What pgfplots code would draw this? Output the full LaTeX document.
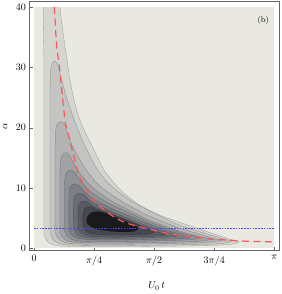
\documentclass[border=0pt]{standalone}
\usepackage{pgfplots}
\pgfplotsset{compat=1.18}
\definecolor{bg}{RGB}{233,233,225}
\definecolor{cA}{RGB}{214,214,209}
\definecolor{cB}{RGB}{196,197,194}
\definecolor{cC}{RGB}{178,179,179}
\definecolor{cD}{RGB}{160,162,164}
\definecolor{cE}{RGB}{142,145,149}
\definecolor{cF}{RGB}{124,127,133}
\definecolor{cG}{RGB}{106,109,116}
\definecolor{cH}{RGB}{88,91,98}
\definecolor{cI}{RGB}{70,72,79}
\definecolor{cJ}{RGB}{26,26,28}
\definecolor{redc}{RGB}{250,88,88}
\definecolor{bluec}{RGB}{70,70,255}
\begin{document}
\begin{tikzpicture}
\path[use as bounding box] (-29.5pt,-44pt) rectangle (251.5pt,249.7pt);
\begin{axis}[
  at={(0,0)}, anchor=south west,
  scale only axis, width=249pt, height=248pt,
  xmin=-0.059, xmax=3.200, ymin=-0.28, ymax=40.88,
  axis line style={black!60},
  tick style={black!60},
  xtick={0,0.7854,1.5708,2.3562,3.1416},
  xticklabels={$0$,$\pi/4$,$\pi/2$,$3\pi/4$,$\pi$},
  ytick={0,10,20,30,40},
  xtick pos=left, ytick pos=left, tick align=inside,
  major tick length=3pt,
  xlabel={$U_0\,t$}, ylabel={$\alpha$},
  xticklabel style={yshift=-2pt},
  xlabel style={at={(axis description cs:0.51,0)}, anchor=center, yshift=-36pt},
  ylabel style={at={(axis description cs:-0.098,0.5)}, anchor=center},
  cont/.style={draw=black, draw opacity=0.3, line width=0.3pt, smooth, tension=0.4},
]
\addplot[fill=bg, draw=none] coordinates {(0,0) (3.1416,0) (3.1416,40) (0,40)} -- cycle;
\begin{scope}
\clip (axis cs:0,0) rectangle (axis cs:3.1416,40);
% level 1
\addplot[cont, fill=cA] coordinates {
(0.130,2.33) (0.130,30) (0.130,42) (0.339,42) (0.339,40) (0.365,37.17) (0.391,34.67) (0.430,31.33) (0.469,28) (0.521,24.67)
(0.574,22.17) (0.652,19.67) (0.782,16.33) (0.912,13) (1.056,10.67) (1.186,9) (1.382,7.17) (1.643,5.5)
(1.903,4.33) (2.164,3.17) (2.425,2.08) (2.581,1.42) (2.685,1.08) (2.581,0.67) (2.294,0.45) (1.643,0.33)
(0.860,0.28) (0.404,0.33) (0.248,0.58) (0.169,1.17) (0.130,2.33)};
% level 2
\addplot[cont, fill=cB] coordinates {
(0.209,2.5) (0.209,24) (0.212,28.3) (0.222,30.0) (0.245,30.85) (0.274,31.05) (0.300,30.75) (0.320,30.0) (0.345,28.67)
(0.417,25.33) (0.469,23.33) (0.534,21) (0.613,18.5) (0.704,16) (0.808,13.5) (0.926,11.42) (1.056,9.83)
(1.251,8) (1.512,6.17) (1.903,3.83) (2.229,2.5) (2.490,1.5) (2.581,1.17) (2.425,0.75) (1.903,0.55)
(1.121,0.47) (0.534,0.5) (0.339,0.75) (0.248,1.42) (0.209,2.5)};
% level 3
\addplot[cont, fill=cC] coordinates {
(0.274,2.67) (0.274,15) (0.278,18.8) (0.292,20.2) (0.320,20.85) (0.350,21) (0.380,20.8) (0.405,20.2)
(0.443,18.83) (0.495,17.17) (0.561,15.5) (0.639,13.83) (0.730,12.17) (0.821,10.83) (0.926,9.67) (1.056,8.5)
(1.251,7) (1.512,5.33) (1.903,3.33) (2.164,2.33) (2.359,1.58) (2.451,1.33) (2.294,1) (1.773,0.75)
(0.991,0.67) (0.534,0.72) (0.391,1) (0.313,1.67) (0.274,2.67)};
% level 4
\addplot[cont, fill=cD] coordinates {
(0.339,2.83) (0.339,11.5) (0.345,14.3) (0.365,15.35) (0.395,15.8) (0.425,15.85) (0.458,15.5) (0.485,14.9) (0.521,14)
(0.587,12.67) (0.665,11.33) (0.756,10.17) (0.860,9.17) (0.991,8) (1.186,6.67) (1.447,5) (1.708,3.67)
(1.903,2.83) (2.164,1.92) (2.320,1.5) (2.164,1.17) (1.643,0.95) (0.991,0.87) (0.574,0.95) (0.430,1.25)
(0.365,1.92) (0.339,2.83)};
% level 5
\addplot[cont, fill=cE] coordinates {
(0.398,3) (0.398,9.8) (0.405,11.8) (0.430,12.6) (0.462,12.95) (0.495,12.95) (0.525,12.7) (0.555,12.2) (0.587,11.5)
(0.652,10.5) (0.730,9.5) (0.821,8.67) (0.926,7.83) (1.056,7) (1.251,5.83) (1.512,4.33) (1.773,3.17)
(1.968,2.42) (2.164,1.75) (2.034,1.42) (1.512,1.2) (0.991,1.12) (0.626,1.17) (0.495,1.45) (0.430,2.08)
(0.398,3)};
% level 6
\addplot[cont, fill=cF] coordinates {
(0.456,3.17) (0.456,8.3) (0.465,9.8) (0.490,10.45) (0.525,10.68) (0.560,10.62) (0.592,10.35) (0.625,9.95) (0.665,9.33)
(0.730,8.58) (0.821,7.83) (0.926,7.17) (1.056,6.33) (1.251,5.33) (1.512,4) (1.773,2.83) (2.034,1.83)
(1.877,1.58) (1.382,1.42) (0.926,1.37) (0.665,1.45) (0.547,1.75) (0.482,2.33) (0.456,3.17)};
% level 7
\addplot[cont, fill=cG] coordinates {
(0.515,3.33) (0.515,7.2) (0.525,8.4) (0.552,8.9) (0.590,9.1) (0.628,9.0) (0.665,8.7) (0.730,7.92)
(0.808,7.33) (0.899,6.75) (1.017,6.08) (1.186,5.17) (1.382,4.17) (1.643,3) (1.877,2.08) (1.708,1.83)
(1.251,1.67) (0.860,1.63) (0.678,1.75) (0.587,2.08) (0.541,2.67) (0.515,3.33)};
% level 8
\addplot[cont, fill=cH] coordinates {
(0.574,3.42) (0.574,6.3) (0.588,7.25) (0.620,7.72) (0.660,7.85) (0.700,7.7) (0.743,7.25) (0.808,6.75)
(0.899,6.25) (1.017,5.67) (1.186,4.83) (1.382,3.83) (1.577,2.92) (1.721,2.25) (1.577,2) (1.186,1.87)
(0.860,1.88) (0.704,2.08) (0.626,2.5) (0.587,2.92) (0.574,3.42)};
% level 9
\addplot[cont, fill=cI] coordinates {
(0.639,3.67) (0.639,5.6) (0.652,6.35) (0.680,6.8) (0.717,6.92) (0.756,6.83) (0.795,6.58) (0.860,6.25)
(0.965,5.83) (1.095,5.25) (1.251,4.5) (1.408,3.67) (1.538,2.92) (1.577,2.67) (1.486,2.33) (1.186,2.2)
(0.860,2.25) (0.730,2.5) (0.671,2.92) (0.639,3.67)};
% level 10
\addplot[cont, fill=cJ] coordinates {
(0.691,4.17) (0.691,5.0) (0.730,5.75) (0.795,6.08) (0.886,6.0) (0.991,5.5) (1.121,4.83) (1.251,4.17)
(1.343,3.58) (1.356,3.08) (1.278,2.75) (1.056,2.75) (0.860,3.08) (0.756,3.5) (0.691,4.17)};
\end{scope}
% blue dotted line
\addplot[bluec, line width=0.8pt, dash pattern=on 1.5pt off 1.3pt] coordinates {(0,3.3) (3.1416,3.3)};
% red dashed curve
\addplot[redc, line width=1.2pt, dash pattern=on 7pt off 4.5pt, smooth, tension=0.5] coordinates {
(0.265,40) (0.296,33.5) (0.330,30.2) (0.404,21.3) (0.434,19.7) (0.565,13.0) (0.652,10.5) (0.825,7.4)
(0.978,5.8) (1.078,4.95) (1.229,4.1) (1.555,3.0) (1.815,2.33) (2.270,1.6) (2.555,1.33) (2.770,1.17) (3.1416,1.05)};
\node[font=\footnotesize] at (axis cs:2.997,37.7) {(b)};
\end{axis}
\end{tikzpicture}
\end{document}
